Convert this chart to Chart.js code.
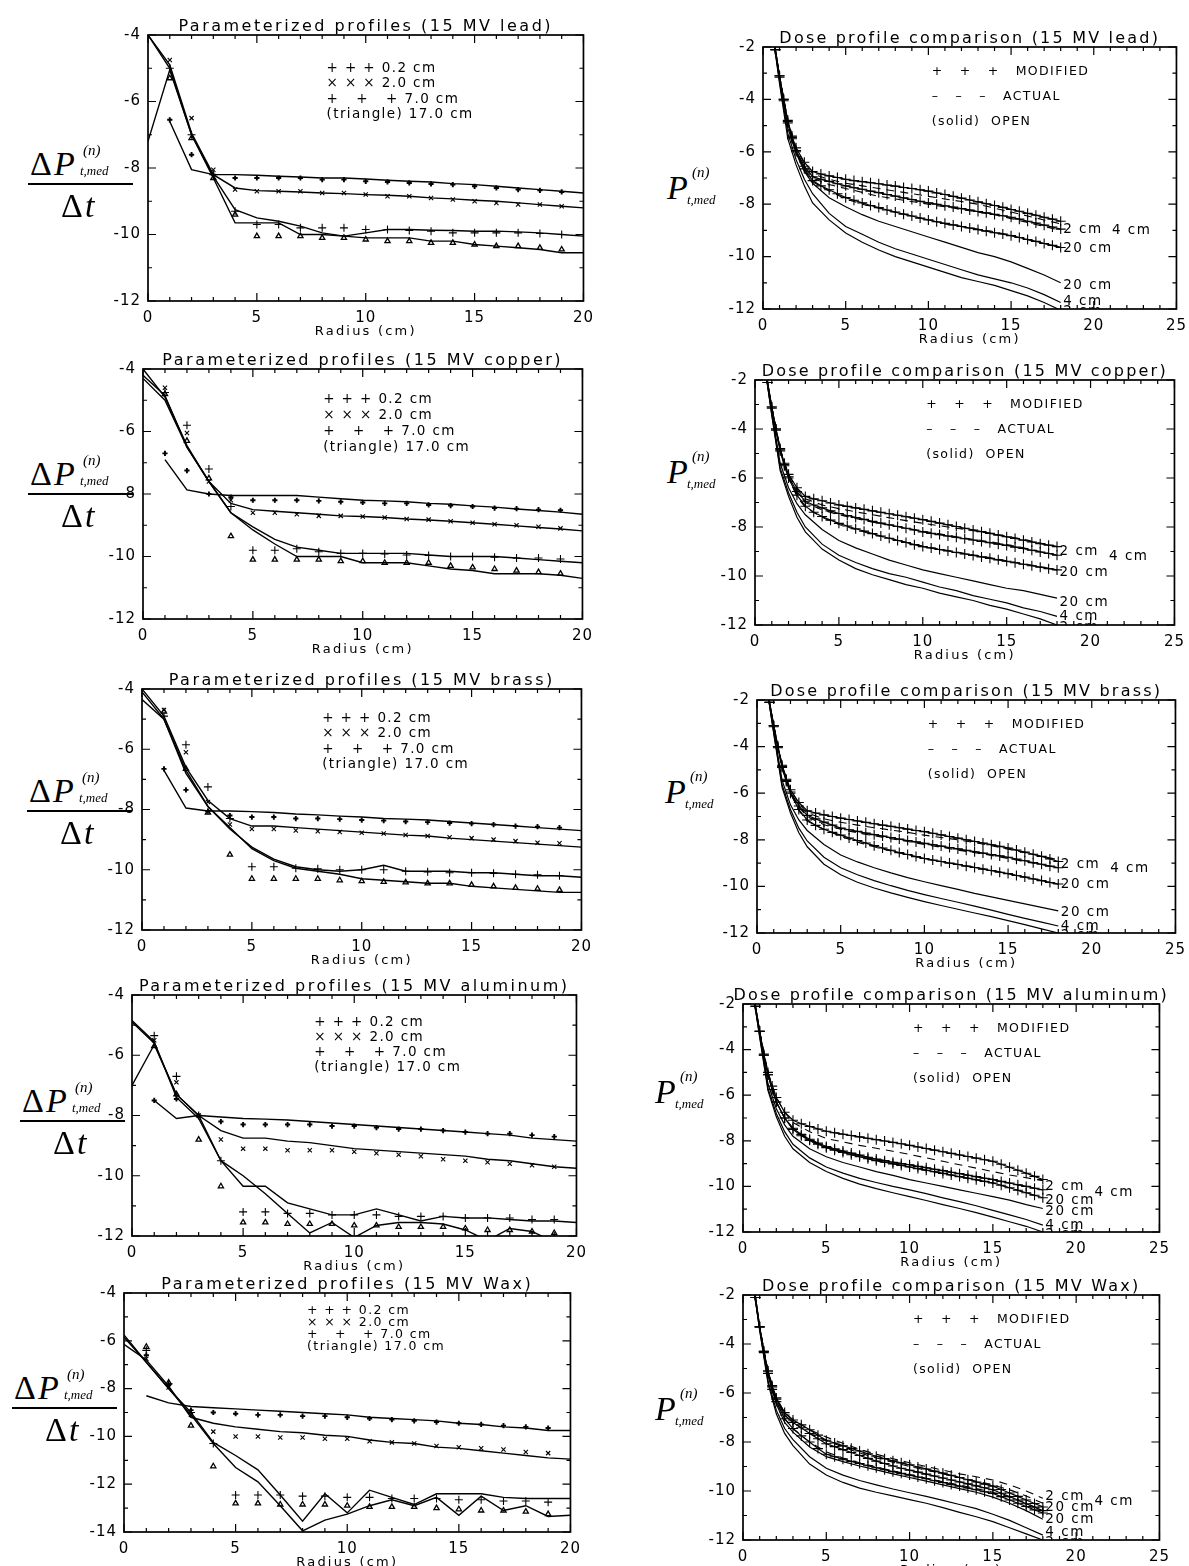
<!DOCTYPE html>
<html>
<head>
<meta charset="utf-8">
<script src="https://cdn.jsdelivr.net/npm/chart.js@4.4.0/dist/chart.umd.min.js"></script>
<style>
  body { margin: 0; background: #fff; }
  #page { position: relative; width: 1189px; height: 1566px; overflow: hidden; background: #fff; }
  canvas { position: absolute; }
  .math { position: absolute; font-family: "Liberation Serif", "DejaVu Serif", serif; color: #000; }
  .math span { position: absolute; white-space: nowrap; line-height: 1; }
  .math .big { font-size: 34px; letter-spacing: 2px; }
  .math .sup { font-size: 15px; font-style: italic; }
  .math .sub { font-size: 13px; font-style: italic; }
  .math .bar { height: 2px; background: #000; }
</style>
</head>
<body>
<div id="page"></div>
<script>
// radii (cm)
const fitRadius = [0, 1, 2, 3, 4, 5, 6, 7, 8, 9, 10, 11, 12, 13, 14, 15, 16, 17, 18, 19, 20];
const markRadius = [1, 2, 3, 4, 5, 6, 7, 8, 9, 10, 11, 12, 13, 14, 15, 16, 17, 18, 19];
const doseRadius = [0.7, 1, 1.5, 2, 2.5, 3, 4, 5, 6, 7, 8, 9, 10, 11, 12, 13, 14, 15, 16, 17, 18];
const modRadius = [0.75, 1, 1.25, 1.5, 1.75, 2, 2.5, 3, 3.5, 4, 4.5, 5, 5.5, 6, 6.5, 7, 7.5, 8, 8.5, 9,
  9.5, 10, 10.5, 11, 11.5, 12, 12.5, 13, 13.5, 14, 14.5, 15, 15.5, 16, 16.5, 17, 17.5, 18];

// parameterized profiles: measured points (0.2, 2.0, 7.0, 17.0 cm)
const leadMark02 = [-6.55, -7.6, -8.2, -8.3, -8.3, -8.3, -8.3, -8.35, -8.35, -8.4, -8.42, -8.45, -8.48, -8.5, -8.55, -8.6, -8.65, -8.67, -8.72];
const leadMark20 = [-4.75, -6.5, -8.05, -8.65, -8.7, -8.7, -8.7, -8.75, -8.75, -8.8, -8.85, -8.85, -8.9, -8.95, -9.0, -9.05, -9.1, -9.1, -9.15];
const leadMark70 = [-5.0, -7.0, -8.2, -9.3, -9.7, -9.7, -9.8, -9.8, -9.8, -9.85, -9.85, -9.88, -9.9, -9.95, -9.95, -9.95, -9.95, -9.97, -10.0];
const leadMark170 = [-5.3, -7.1, -8.3, -9.4, -10.05, -10.05, -10.05, -10.1, -10.1, -10.15, -10.2, -10.2, -10.25, -10.25, -10.3, -10.35, -10.35, -10.4, -10.45];
const leadFit02 = [null, -6.6, -8.05, -8.2, -8.2, -8.22, -8.25, -8.27, -8.3, -8.3, -8.33, -8.37, -8.4, -8.42, -8.47, -8.5, -8.55, -8.6, -8.65, -8.7, -8.75];
const leadFit20 = [-4.0, -4.9, -6.95, -8.2, -8.6, -8.68, -8.7, -8.72, -8.75, -8.77, -8.8, -8.82, -8.85, -8.9, -8.93, -8.97, -9.0, -9.05, -9.1, -9.15, -9.2];
const leadFit70 = [-4.0, -5.0, -7.0, -8.25, -9.25, -9.5, -9.6, -9.75, -9.95, -10.05, -9.95, -9.85, -9.85, -9.87, -9.88, -9.9, -9.9, -9.92, -9.95, -10.0, -10.05];
const leadFit170 = [-7.2, -5.05, -7.0, -8.3, -9.65, -9.65, -9.65, -10.0, -10.0, -10.05, -10.1, -10.1, -10.1, -10.2, -10.2, -10.3, -10.35, -10.4, -10.45, -10.55, -10.55];

const copperMark02 = [-6.7, -7.25, -8.0, -8.1, -8.2, -8.2, -8.2, -8.22, -8.25, -8.27, -8.3, -8.3, -8.35, -8.37, -8.4, -8.45, -8.47, -8.5, -8.52];
const copperMark20 = [-4.6, -6.05, -7.6, -8.2, -8.6, -8.6, -8.65, -8.7, -8.7, -8.72, -8.75, -8.8, -8.82, -8.87, -8.92, -8.97, -9.0, -9.05, -9.1];
const copperMark70 = [-4.75, -5.8, -7.2, -8.4, -9.8, -9.8, -9.75, -9.85, -9.9, -9.9, -9.92, -9.95, -9.97, -10.0, -10.0, -10.02, -10.05, -10.05, -10.08];
const copperMark170 = [-4.8, -6.3, -7.5, -9.35, -10.1, -10.1, -10.1, -10.1, -10.15, -10.15, -10.2, -10.2, -10.2, -10.3, -10.35, -10.4, -10.45, -10.5, -10.55];
const copperFit02 = [null, -6.9, -7.87, -8.0, -8.05, -8.05, -8.05, -8.05, -8.1, -8.15, -8.2, -8.22, -8.25, -8.3, -8.33, -8.38, -8.42, -8.48, -8.53, -8.58, -8.65];
const copperFit20 = [-4.0, -4.9, -6.45, -7.6, -8.3, -8.5, -8.55, -8.6, -8.65, -8.7, -8.72, -8.75, -8.8, -8.83, -8.87, -8.92, -8.97, -9.02, -9.07, -9.12, -9.18];
const copperFit70 = [-4.2, -4.85, -6.5, -7.6, -8.6, -9.05, -9.45, -9.7, -9.8, -9.9, -9.9, -9.9, -9.9, -9.95, -10.0, -10.0, -10.0, -10.05, -10.1, -10.15, -10.2];
const copperFit170 = [-4.3, -5.0, -6.5, -7.6, -8.6, -9.15, -9.6, -10.0, -10.0, -10.0, -10.2, -10.2, -10.2, -10.3, -10.4, -10.45, -10.55, -10.55, -10.55, -10.6, -10.7];

const brassMark02 = [-6.65, -7.35, -8.05, -8.2, -8.25, -8.25, -8.3, -8.3, -8.32, -8.35, -8.37, -8.4, -8.42, -8.45, -8.47, -8.5, -8.55, -8.57, -8.6];
const brassMark20 = [-4.7, -6.1, -7.75, -8.5, -8.65, -8.65, -8.7, -8.72, -8.75, -8.77, -8.8, -8.85, -8.88, -8.92, -8.95, -9.0, -9.05, -9.1, -9.12];
const brassMark70 = [-4.9, -5.85, -7.25, -8.3, -9.9, -9.9, -9.95, -9.97, -10.0, -10.0, -10.0, -10.05, -10.07, -10.1, -10.1, -10.12, -10.15, -10.17, -10.2];
const brassMark170 = [-4.75, -6.65, -8.1, -9.5, -10.3, -10.3, -10.3, -10.3, -10.35, -10.38, -10.4, -10.42, -10.45, -10.45, -10.5, -10.55, -10.6, -10.63, -10.67];
const brassFit02 = [null, -6.7, -7.95, -8.05, -8.05, -8.07, -8.1, -8.15, -8.18, -8.22, -8.25, -8.3, -8.32, -8.35, -8.4, -8.45, -8.5, -8.55, -8.6, -8.65, -8.7];
const brassFit20 = [-4.0, -4.9, -6.6, -7.7, -8.3, -8.55, -8.55, -8.6, -8.65, -8.7, -8.75, -8.8, -8.85, -8.88, -8.95, -9.0, -9.05, -9.1, -9.15, -9.2, -9.25];
const brassFit70 = [-4.35, -5.0, -6.8, -7.9, -8.65, -9.25, -9.65, -9.9, -10.0, -10.05, -10.0, -9.85, -10.05, -10.05, -10.05, -10.1, -10.1, -10.15, -10.2, -10.2, -10.25];
const brassFit170 = [-4.1, -5.0, -6.7, -7.9, -8.6, -9.3, -9.7, -9.95, -10.05, -10.15, -10.3, -10.35, -10.4, -10.45, -10.45, -10.55, -10.6, -10.65, -10.7, -10.75, -10.75];

const aluMark02 = [-7.5, -7.45, -8.0, -8.2, -8.3, -8.3, -8.3, -8.3, -8.35, -8.35, -8.4, -8.45, -8.45, -8.5, -8.55, -8.6, -8.6, -8.65, -8.7];
const aluMark20 = [-5.5, -6.9, -8.0, -8.8, -9.1, -9.1, -9.15, -9.15, -9.15, -9.2, -9.25, -9.3, -9.35, -9.45, -9.5, -9.55, -9.6, -9.65, -9.7];
const aluMark70 = [-5.35, -6.7, -8.0, -9.5, -11.2, -11.2, -11.25, -11.25, -11.3, -11.3, -11.3, -11.35, -11.35, -11.35, -11.4, -11.4, -11.4, -11.45, -11.45];
const aluMark170 = [-5.7, -7.3, -8.8, -10.35, -11.55, -11.55, -11.6, -11.6, -11.6, -11.65, -11.65, -11.7, -11.7, -11.7, -11.75, -11.8, -11.8, -11.85, -11.9];
const aluFit02 = [null, -7.5, -8.1, -8.0, -8.05, -8.1, -8.12, -8.15, -8.2, -8.25, -8.3, -8.35, -8.4, -8.45, -8.5, -8.55, -8.6, -8.65, -8.75, -8.8, -8.85];
const aluFit20 = [-4.9, -5.6, -7.3, -8.0, -8.5, -8.75, -8.75, -8.85, -8.9, -9.0, -9.1, -9.15, -9.2, -9.25, -9.3, -9.35, -9.45, -9.5, -9.6, -9.7, -9.75];
const aluFit70 = [-4.85, -5.55, -7.4, -8.1, -9.5, -10.35, -10.35, -10.9, -11.1, -11.3, -11.3, -11.1, -11.3, -11.5, -11.35, -11.4, -11.4, -11.45, -11.5, -11.5, -11.55];
const aluFit170 = [-7.0, -5.65, -7.3, -8.0, -9.5, -10.0, -10.6, -11.25, -11.9, -11.55, -12.05, -11.65, -11.55, -11.55, -11.6, -11.8, -12.15, -11.75, -11.85, -12.2, -12.05];

const waxMark02 = [-6.6, -7.85, -8.9, -9.0, -9.05, -9.1, -9.1, -9.15, -9.15, -9.2, -9.25, -9.3, -9.35, -9.4, -9.45, -9.5, -9.55, -9.6, -9.65];
const waxMark20 = [-6.75, -7.95, -9.1, -9.8, -10.0, -10.0, -10.05, -10.05, -10.1, -10.1, -10.2, -10.25, -10.3, -10.4, -10.45, -10.5, -10.55, -10.65, -10.7];
const waxMark70 = [-6.4, -7.8, -9.0, -10.3, -12.45, -12.45, -12.45, -12.5, -12.5, -12.55, -12.55, -12.6, -12.6, -12.6, -12.65, -12.65, -12.7, -12.7, -12.75];
const waxMark170 = [-6.25, -7.75, -9.55, -11.25, -12.8, -12.8, -12.85, -12.85, -12.85, -12.9, -12.95, -12.95, -12.95, -13.0, -13.05, -13.1, -13.1, -13.15, -13.25];
const waxFit02 = [null, -8.3, -8.6, -8.75, -8.8, -8.85, -8.9, -8.95, -9.0, -9.05, -9.1, -9.2, -9.25, -9.3, -9.35, -9.45, -9.5, -9.6, -9.65, -9.75, -9.75];
const waxFit20 = [-6.15, -6.8, -7.9, -9.2, -9.45, -9.6, -9.7, -9.8, -9.85, -9.95, -10.0, -10.15, -10.25, -10.3, -10.45, -10.5, -10.6, -10.7, -10.8, -10.9, -10.95];
const waxFit70 = [-5.75, -6.9, -8.0, -9.0, -10.25, -10.8, -11.4, -12.45, -13.55, -12.4, -13.2, -12.25, -12.55, -12.85, -12.4, -12.4, -12.4, -12.55, -12.6, -12.6, -12.6];
const waxFit170 = [-5.85, -6.9, -8.0, -9.1, -10.3, -11.3, -11.9, -12.9, -13.95, -13.5, -13.25, -12.9, -12.65, -12.9, -12.55, -13.3, -12.5, -13.1, -12.9, -13.35, -13.3];

// dose profiles: modified (on modRadius), actual and open (on doseRadius), fields 2, 4, 20 cm
const leadMod2 = [-2.1, -3.1, -4.0, -4.8, -5.4, -5.85, -6.4, -6.75, -6.85, -6.92, -6.98, -7.05, -7.1, -7.14, -7.18, -7.22, -7.27, -7.31, -7.36, -7.4, -7.45, -7.5, -7.57, -7.63, -7.7, -7.77, -7.84, -7.91, -7.98, -8.05, -8.12, -8.2, -8.27, -8.35, -8.42, -8.5, -8.57, -8.65];
const leadMod4 = [-2.1, -3.1, -4.0, -4.85, -5.45, -5.95, -6.55, -6.95, -7.05, -7.13, -7.22, -7.3, -7.37, -7.43, -7.5, -7.56, -7.63, -7.69, -7.76, -7.82, -7.89, -7.95, -8.0, -8.06, -8.11, -8.17, -8.22, -8.28, -8.33, -8.39, -8.44, -8.5, -8.57, -8.65, -8.72, -8.8, -8.87, -8.95];
const leadMod20 = [-2.1, -3.15, -4.05, -4.9, -5.5, -6.0, -6.65, -7.1, -7.3, -7.45, -7.6, -7.75, -7.85, -7.95, -8.05, -8.13, -8.22, -8.3, -8.38, -8.45, -8.53, -8.6, -8.67, -8.73, -8.79, -8.85, -8.91, -8.97, -9.03, -9.09, -9.14, -9.2, -9.27, -9.35, -9.42, -9.5, -9.57, -9.65];
const leadAct2 = [-2.0, -3.1, -4.8, -5.85, -6.45, -6.85, -7.05, -7.2, -7.3, -7.4, -7.5, -7.6, -7.7, -7.8, -7.9, -8.0, -8.15, -8.3, -8.45, -8.6, -8.75];
const leadAct4 = [-2.0, -3.1, -4.85, -5.95, -6.6, -7.0, -7.25, -7.4, -7.55, -7.7, -7.8, -7.9, -8.0, -8.1, -8.2, -8.3, -8.4, -8.55, -8.7, -8.85, -9.0];
const leadAct20 = [-2.0, -3.15, -4.9, -6.0, -6.7, -7.15, -7.5, -7.8, -8.0, -8.15, -8.3, -8.45, -8.6, -8.75, -8.85, -8.95, -9.05, -9.2, -9.35, -9.5, -9.65];
const leadOpen2 = [-2.0, -3.4, -5.5, -6.5, -7.3, -7.95, -8.6, -9.1, -9.45, -9.75, -10.0, -10.2, -10.4, -10.6, -10.8, -10.95, -11.1, -11.3, -11.5, -11.75, -12.05];
const leadOpen4 = [-2.0, -3.3, -5.3, -6.3, -7.05, -7.6, -8.35, -8.85, -9.15, -9.45, -9.7, -9.9, -10.1, -10.3, -10.5, -10.7, -10.85, -11.0, -11.2, -11.45, -11.75];
const leadOpen20 = [-2.0, -3.2, -5.1, -6.05, -6.75, -7.2, -7.75, -8.1, -8.4, -8.65, -8.85, -9.05, -9.25, -9.45, -9.65, -9.85, -10.0, -10.2, -10.45, -10.7, -11.0];

const copperMod2 = [-2.1, -3.1, -4.0, -4.8, -5.4, -5.85, -6.4, -6.75, -6.85, -6.93, -7.02, -7.1, -7.16, -7.22, -7.28, -7.34, -7.4, -7.46, -7.52, -7.58, -7.64, -7.7, -7.77, -7.84, -7.91, -7.98, -8.05, -8.12, -8.19, -8.26, -8.33, -8.4, -8.47, -8.54, -8.61, -8.68, -8.74, -8.8];
const copperMod4 = [-2.1, -3.1, -4.0, -4.85, -5.45, -5.95, -6.55, -6.95, -7.1, -7.22, -7.34, -7.45, -7.53, -7.61, -7.69, -7.77, -7.84, -7.91, -7.98, -8.05, -8.12, -8.2, -8.26, -8.31, -8.37, -8.42, -8.48, -8.53, -8.59, -8.64, -8.7, -8.75, -8.82, -8.88, -8.95, -9.02, -9.08, -9.15];
const copperMod20 = [-2.1, -3.15, -4.05, -4.9, -5.5, -6.0, -6.7, -7.15, -7.4, -7.57, -7.72, -7.85, -7.96, -8.07, -8.17, -8.27, -8.37, -8.46, -8.55, -8.63, -8.72, -8.8, -8.86, -8.92, -8.98, -9.04, -9.1, -9.16, -9.22, -9.28, -9.34, -9.4, -9.46, -9.52, -9.58, -9.64, -9.7, -9.75];
const copperAct2 = [-2.0, -3.1, -4.8, -5.85, -6.45, -6.85, -7.1, -7.25, -7.38, -7.5, -7.62, -7.74, -7.85, -7.95, -8.05, -8.15, -8.25, -8.38, -8.5, -8.65, -8.8];
const copperAct4 = [-2.0, -3.1, -4.85, -5.95, -6.6, -7.0, -7.3, -7.5, -7.65, -7.8, -7.92, -8.05, -8.17, -8.28, -8.4, -8.5, -8.6, -8.72, -8.85, -9.0, -9.15];
const copperAct20 = [-2.0, -3.15, -4.9, -6.0, -6.75, -7.2, -7.6, -7.9, -8.1, -8.3, -8.45, -8.62, -8.78, -8.9, -9.02, -9.14, -9.25, -9.38, -9.5, -9.62, -9.75];
const copperOpen2 = [-2.0, -3.45, -5.7, -6.75, -7.6, -8.2, -8.9, -9.35, -9.7, -9.95, -10.15, -10.35, -10.5, -10.7, -10.85, -11.0, -11.2, -11.35, -11.55, -11.75, -12.0];
const copperOpen4 = [-2.0, -3.4, -5.6, -6.6, -7.4, -8.0, -8.7, -9.15, -9.45, -9.7, -9.9, -10.05, -10.25, -10.45, -10.6, -10.8, -10.95, -11.1, -11.3, -11.45, -11.65];
const copperOpen20 = [-2.0, -3.3, -5.4, -6.4, -7.05, -7.5, -8.1, -8.55, -8.85, -9.1, -9.35, -9.55, -9.75, -9.9, -10.05, -10.2, -10.35, -10.5, -10.6, -10.75, -10.9];

const brassMod2 = [-2.1, -3.1, -4.0, -4.8, -5.4, -5.85, -6.4, -6.75, -6.85, -6.93, -7.0, -7.07, -7.13, -7.19, -7.25, -7.31, -7.37, -7.42, -7.48, -7.54, -7.6, -7.65, -7.72, -7.79, -7.86, -7.93, -8.0, -8.07, -8.14, -8.21, -8.28, -8.35, -8.44, -8.53, -8.62, -8.71, -8.82, -8.93];
const brassMod4 = [-2.1, -3.1, -4.0, -4.85, -5.45, -5.95, -6.55, -6.95, -7.1, -7.24, -7.37, -7.5, -7.57, -7.64, -7.71, -7.78, -7.84, -7.9, -7.97, -8.03, -8.09, -8.15, -8.21, -8.27, -8.33, -8.39, -8.45, -8.51, -8.57, -8.63, -8.69, -8.75, -8.83, -8.9, -8.98, -9.05, -9.13, -9.2];
const brassMod20 = [-2.1, -3.15, -4.05, -4.9, -5.5, -6.0, -6.7, -7.15, -7.38, -7.55, -7.68, -7.8, -7.92, -8.03, -8.14, -8.25, -8.35, -8.45, -8.55, -8.63, -8.72, -8.8, -8.87, -8.93, -9.0, -9.06, -9.13, -9.19, -9.26, -9.32, -9.39, -9.45, -9.53, -9.6, -9.68, -9.75, -9.83, -9.9];
const brassAct2 = [-2.0, -3.1, -4.8, -5.85, -6.45, -6.85, -7.1, -7.25, -7.37, -7.48, -7.58, -7.68, -7.8, -7.9, -8.0, -8.12, -8.25, -8.4, -8.55, -8.7, -8.85];
const brassAct4 = [-2.0, -3.1, -4.85, -5.95, -6.6, -7.0, -7.35, -7.55, -7.7, -7.83, -7.95, -8.07, -8.2, -8.32, -8.44, -8.55, -8.67, -8.8, -8.93, -9.06, -9.2];
const brassAct20 = [-2.0, -3.15, -4.9, -6.0, -6.75, -7.2, -7.55, -7.85, -8.1, -8.3, -8.48, -8.65, -8.8, -8.93, -9.05, -9.18, -9.3, -9.45, -9.6, -9.75, -9.9];
const brassOpen2 = [-2.0, -3.45, -5.75, -6.85, -7.7, -8.3, -9.05, -9.5, -9.82, -10.07, -10.28, -10.47, -10.65, -10.82, -10.98, -11.14, -11.3, -11.47, -11.64, -11.82, -12.0];
const brassOpen4 = [-2.0, -3.4, -5.65, -6.7, -7.5, -8.05, -8.75, -9.2, -9.5, -9.75, -9.97, -10.17, -10.35, -10.52, -10.68, -10.85, -11.02, -11.2, -11.37, -11.53, -11.7];
const brassOpen20 = [-2.0, -3.3, -5.45, -6.5, -7.15, -7.6, -8.2, -8.65, -8.95, -9.2, -9.42, -9.62, -9.8, -9.97, -10.13, -10.3, -10.45, -10.6, -10.75, -10.9, -11.05];

const aluMod2 = [-2.1, -3.2, -4.2, -5.0, -5.6, -6.1, -6.75, -7.1, -7.25, -7.37, -7.48, -7.58, -7.65, -7.71, -7.77, -7.83, -7.89, -7.95, -8.01, -8.07, -8.13, -8.2, -8.27, -8.34, -8.41, -8.48, -8.55, -8.62, -8.69, -8.76, -8.83, -8.9, -9.03, -9.16, -9.29, -9.42, -9.56, -9.7];
const aluMod4 = [-2.1, -3.2, -4.25, -5.1, -5.75, -6.3, -7.0, -7.45, -7.72, -7.93, -8.1, -8.25, -8.35, -8.45, -8.54, -8.63, -8.72, -8.8, -8.87, -8.94, -9.0, -9.05, -9.12, -9.18, -9.25, -9.31, -9.38, -9.44, -9.51, -9.57, -9.64, -9.7, -9.78, -9.85, -9.93, -10.0, -10.08, -10.15];
const aluMod20 = [-2.1, -3.2, -4.25, -5.1, -5.75, -6.3, -7.0, -7.5, -7.78, -7.98, -8.15, -8.3, -8.41, -8.51, -8.61, -8.7, -8.79, -8.87, -8.94, -9.01, -9.08, -9.15, -9.22, -9.29, -9.36, -9.43, -9.5, -9.57, -9.64, -9.71, -9.78, -9.85, -9.95, -10.06, -10.17, -10.28, -10.39, -10.5];
const aluAct2 = [-2.0, -3.2, -5.0, -6.1, -6.75, -7.2, -7.6, -7.9, -8.05, -8.2, -8.33, -8.46, -8.6, -8.75, -8.9, -9.05, -9.2, -9.35, -9.5, -9.62, -9.75];
const aluAct4 = [-2.0, -3.2, -5.1, -6.3, -7.0, -7.45, -7.95, -8.25, -8.45, -8.63, -8.8, -8.93, -9.05, -9.18, -9.31, -9.44, -9.57, -9.7, -9.85, -10.0, -10.15];
const aluAct20 = [-2.0, -3.2, -5.1, -6.3, -7.0, -7.5, -8.0, -8.3, -8.52, -8.7, -8.87, -9.01, -9.15, -9.29, -9.43, -9.57, -9.71, -9.85, -10.07, -10.28, -10.5];
const aluOpen2 = [-2.0, -3.45, -5.8, -6.95, -7.8, -8.35, -8.95, -9.35, -9.65, -9.9, -10.1, -10.28, -10.45, -10.62, -10.8, -10.97, -11.15, -11.35, -11.55, -11.75, -12.0];
const aluOpen4 = [-2.0, -3.4, -5.7, -6.8, -7.6, -8.15, -8.75, -9.15, -9.42, -9.65, -9.83, -10.0, -10.15, -10.32, -10.5, -10.67, -10.85, -11.05, -11.25, -11.45, -11.7];
const aluOpen20 = [-2.0, -3.3, -5.5, -6.6, -7.3, -7.8, -8.35, -8.7, -8.95, -9.15, -9.35, -9.52, -9.7, -9.85, -10.0, -10.15, -10.3, -10.45, -10.6, -10.8, -10.97];

const waxMod2 = [-2.1, -3.3, -4.3, -5.1, -5.7, -6.2, -6.8, -7.1, -7.3, -7.5, -7.72, -7.93, -8.04, -8.15, -8.26, -8.37, -8.48, -8.58, -8.68, -8.77, -8.85, -8.93, -9.02, -9.1, -9.19, -9.27, -9.36, -9.45, -9.54, -9.63, -9.72, -9.8, -9.94, -10.08, -10.22, -10.37, -10.51, -10.65];
const waxMod4 = [-2.1, -3.3, -4.3, -5.1, -5.75, -6.25, -6.9, -7.2, -7.42, -7.65, -7.87, -8.07, -8.19, -8.31, -8.43, -8.55, -8.67, -8.78, -8.88, -8.98, -9.07, -9.15, -9.23, -9.31, -9.39, -9.47, -9.55, -9.63, -9.71, -9.79, -9.87, -9.95, -10.09, -10.23, -10.37, -10.52, -10.66, -10.8];
const waxMod20 = [-2.1, -3.3, -4.35, -5.2, -5.85, -6.35, -7.05, -7.45, -7.75, -8.0, -8.27, -8.5, -8.6, -8.7, -8.79, -8.88, -8.97, -9.05, -9.13, -9.21, -9.28, -9.35, -9.43, -9.5, -9.58, -9.65, -9.73, -9.8, -9.88, -9.95, -10.03, -10.1, -10.23, -10.37, -10.5, -10.63, -10.77, -10.9];
const waxAct2 = [-2.0, -3.3, -5.1, -6.2, -6.8, -7.1, -7.5, -7.8, -8.05, -8.3, -8.5, -8.68, -8.85, -9.0, -9.15, -9.3, -9.42, -9.55, -9.75, -10.0, -10.3];
const waxAct4 = [-2.0, -3.3, -5.15, -6.25, -6.9, -7.2, -7.65, -7.95, -8.2, -8.45, -8.65, -8.83, -9.0, -9.15, -9.3, -9.45, -9.6, -9.75, -9.95, -10.2, -10.5];
const waxAct20 = [-2.0, -3.3, -5.2, -6.35, -7.05, -7.45, -8.0, -8.4, -8.65, -8.85, -9.02, -9.18, -9.33, -9.48, -9.62, -9.76, -9.9, -10.05, -10.25, -10.5, -10.8];
const waxOpen2 = [-2.0, -3.45, -5.6, -6.85, -7.65, -8.15, -8.9, -9.35, -9.65, -9.88, -10.05, -10.2, -10.35, -10.5, -10.68, -10.87, -11.05, -11.25, -11.5, -11.75, -12.0];
const waxOpen4 = [-2.0, -3.4, -5.5, -6.7, -7.45, -7.9, -8.6, -9.07, -9.35, -9.57, -9.75, -9.92, -10.07, -10.22, -10.38, -10.55, -10.72, -10.95, -11.2, -11.5, -11.8];
const waxOpen20 = [-2.0, -3.35, -5.3, -6.45, -7.2, -7.6, -8.2, -8.6, -8.8, -8.98, -9.14, -9.3, -9.45, -9.6, -9.75, -9.9, -10.05, -10.25, -10.5, -10.8, -11.15];

const paramLegend = ['+ + + 0.2 cm', '\u00d7 \u00d7 \u00d7 2.0 cm', '+   +   + 7.0 cm', '(triangle) 17.0 cm'];
const doseLegend = ['+   +   +   MODIFIED', '\u2013   \u2013   \u2013   ACTUAL', '(solid)  OPEN'];
const curveLabels = ['2 cm', '4 cm', '20 cm', '20 cm', '4 cm', '2 cm'];

// panel layout: box = [left, top, right, bottom] of the plot frame on the page
const paramPanels = [
  { title: 'Parameterized profiles (15 MV lead)', box: [148, 35, 590, 301], yMin: -12,
    marks: [leadMark02, leadMark20, leadMark70, leadMark170], fits: [leadFit02, leadFit20, leadFit70, leadFit170],
    legend: [33, 15.5, 13.5], frac: [28, 183] },
  { title: 'Parameterized profiles (15 MV copper)', box: [143, 369, 589, 619], yMin: -12,
    marks: [copperMark02, copperMark20, copperMark70, copperMark170], fits: [copperFit02, copperFit20, copperFit70, copperFit170],
    legend: [30, 16, 13.5], frac: [28, 493] },
  { title: 'Parameterized profiles (15 MV brass)', box: [142, 689, 588, 930], yMin: -12,
    marks: [brassMark02, brassMark20, brassMark70, brassMark170], fits: [brassFit02, brassFit20, brassFit70, brassFit170],
    legend: [29, 15.5, 13.5], frac: [27, 810] },
  { title: 'Parameterized profiles (15 MV aluminum)', box: [132, 995, 583, 1236], yMin: -12,
    marks: [aluMark02, aluMark20, aluMark70, aluMark170], fits: [aluFit02, aluFit20, aluFit70, aluFit170],
    legend: [27, 15, 13.5], frac: [20, 1120] },
  { title: 'Parameterized profiles (15 MV Wax)', box: [124, 1293, 577, 1532], yMin: -14,
    marks: [waxMark02, waxMark20, waxMark70, waxMark170], fits: [waxFit02, waxFit20, waxFit70, waxFit170],
    legend: [18, 12, 12.5], frac: [12, 1407] }
];

// labelY: where the curve labels sit, in curveLabels order
const dosePanels = [
  { title: 'Dose profile comparison (15 MV lead)', box: [763, 47, 1183, 309],
    mod: [leadMod2, leadMod4, leadMod20], act: [leadAct2, leadAct4, leadAct20], open: [leadOpen2, leadOpen4, leadOpen20],
    labelY: [-8.97, -9.02, -9.7, -11.1, -11.7, -12.1], lab: [667, 189] },
  { title: 'Dose profile comparison (15 MV copper)', box: [755, 380, 1181, 625],
    mod: [copperMod2, copperMod4, copperMod20], act: [copperAct2, copperAct4, copperAct20], open: [copperOpen2, copperOpen4, copperOpen20],
    labelY: [-9.0, -9.2, -9.87, -11.1, -11.66, -12.1], lab: [667, 473] },
  { title: 'Dose profile comparison (15 MV brass)', box: [757, 700, 1182, 933],
    mod: [brassMod2, brassMod4, brassMod20], act: [brassAct2, brassAct4, brassAct20], open: [brassOpen2, brassOpen4, brassOpen20],
    labelY: [-9.07, -9.24, -9.93, -11.14, -11.71, -12.1], lab: [665, 793] },
  { title: 'Dose profile comparison (15 MV aluminum)', box: [743, 1004, 1166, 1232],
    mod: [aluMod2, aluMod4, aluMod20], act: [aluAct2, aluAct4, aluAct20], open: [aluOpen2, aluOpen4, aluOpen20],
    labelY: [-10.0, -10.28, -10.6, -11.12, -11.7, -12.1], lab: [655, 1093] },
  { title: 'Dose profile comparison (15 MV Wax)', box: [743, 1295, 1166, 1540],
    mod: [waxMod2, waxMod4, waxMod20], act: [waxAct2, waxAct4, waxAct20], open: [waxOpen2, waxOpen4, waxOpen20],
    labelY: [-10.24, -10.43, -10.67, -11.17, -11.71, -12.1], lab: [655, 1410] }
];
const labelX = [18.15, 21.1, 18.15, 18.15, 18.15, 18.15];

Chart.defaults.color = '#000';
Chart.defaults.font.family = '"DejaVu Sans", sans-serif';

const page = document.getElementById('page');
const PAD_L = 60, PAD_T = 30, PAD_R = 12, AXIS_H = 42, AXIS_W = 40;

const pts = (xs, ys) => xs.map((x, i) => ({ x: x, y: ys[i] })).filter(p => p.y !== null);

// frame, inward ticks, titles, legend and curve labels
const framePlugin = {
  id: 'frame',
  beforeLayout(chart) { chart.ctx.letterSpacing = '1px'; },
  beforeDraw(chart) { chart.ctx.letterSpacing = '1px'; },
  afterDraw(chart, args, o) {
    const { ctx, chartArea: a, scales } = chart;
    const xs = scales.x, ys = scales.y;
    ctx.save();
    ctx.strokeStyle = '#000';
    ctx.lineWidth = 1.7;
    ctx.strokeRect(a.left, a.top, a.right - a.left, a.bottom - a.top);

    ctx.lineWidth = 1.2;
    ctx.beginPath();
    const nx = Math.round((xs.max - xs.min) / o.xMinor);
    for (let k = 0; k <= nx; k++) {
      const v = xs.min + k * o.xMinor;
      const len = (Math.abs(v % o.xMajor) < 1e-6) ? 8 : 4;
      const px = xs.getPixelForValue(v);
      ctx.moveTo(px, a.bottom); ctx.lineTo(px, a.bottom - len);
      ctx.moveTo(px, a.top); ctx.lineTo(px, a.top + len);
    }
    const ny = Math.round((ys.max - ys.min) / o.yMinor);
    for (let k = 0; k <= ny; k++) {
      const v = ys.min + k * o.yMinor;
      const len = (Math.abs(v % o.yMajor) < 1e-6) ? 8 : 4;
      const py = ys.getPixelForValue(v);
      ctx.moveTo(a.left, py); ctx.lineTo(a.left + len, py);
      ctx.moveTo(a.right, py); ctx.lineTo(a.right - len, py);
    }
    ctx.stroke();

    ctx.fillStyle = '#000';
    ctx.textAlign = 'center';
    ctx.textBaseline = 'alphabetic';
    ctx.font = '16px "DejaVu Sans"';
    ctx.letterSpacing = o.titleSpacing;
    ctx.fillText(o.title, (a.left + a.right) / 2, a.top - 4);

    ctx.font = '13px "DejaVu Sans"';
    ctx.letterSpacing = '2.2px';
    ctx.textBaseline = 'middle';
    ctx.fillText('Radius (cm)', (a.left + a.right) / 2, a.bottom + 31);

    ctx.textAlign = 'left';
    ctx.font = o.legendFont + 'px "DejaVu Sans"';
    ctx.letterSpacing = '1.4px';
    o.legend.forEach((t, i) => {
      ctx.fillText(t, o.legendX(a, xs), a.top + o.legendTop + i * o.legendStep);
    });

    if (o.labelY) {
      ctx.save();
      ctx.beginPath();
      ctx.rect(a.left, a.top, a.right - a.left, a.bottom - a.top);
      ctx.clip();
      ctx.font = '13.5px "DejaVu Sans"';
      ctx.letterSpacing = '1.5px';
      curveLabels.forEach((t, i) => {
        ctx.fillText(t, xs.getPixelForValue(labelX[i]), ys.getPixelForValue(o.labelY[i]));
      });
      ctx.restore();
    }
    ctx.restore();
  }
};

function makeCanvas(box) {
  const [l, t, r, b] = box;
  const c = document.createElement('canvas');
  const w = (r - l) + PAD_L + PAD_R, h = (b - t) + PAD_T + AXIS_H;
  c.width = w; c.height = h;
  c.style.left = (l - PAD_L) + 'px';
  c.style.top = (t - PAD_T) + 'px';
  c.style.width = w + 'px'; c.style.height = h + 'px';
  page.appendChild(c);
  return c;
}

function axes(xMax, yMin, yMax) {
  return {
    x: {
      type: 'linear', min: 0, max: xMax,
      grid: { display: false, drawTicks: false }, border: { display: false },
      ticks: { stepSize: 5, padding: 8, font: { size: 15 }, maxRotation: 0 },
      afterFit: s => { s.height = AXIS_H; }
    },
    y: {
      type: 'linear', min: yMin, max: yMax,
      grid: { display: false, drawTicks: false }, border: { display: false },
      ticks: { stepSize: 2, padding: 7, font: { size: 15 } },
      afterFit: s => { s.width = AXIS_W; }
    }
  };
}

function baseOptions(scales, frame) {
  return {
    responsive: false, animation: false, devicePixelRatio: 1,
    layout: { padding: { left: PAD_L - AXIS_W, top: PAD_T, right: PAD_R, bottom: 0 } },
    plugins: { legend: { display: false }, tooltip: { enabled: false }, frame: frame },
    elements: { line: { tension: 0 } },
    scales: scales
  };
}

const markStyles = [
  { pointStyle: 'cross', pointRadius: 2.6, pointBorderWidth: 1.9, pointBackgroundColor: '#000' },
  { pointStyle: 'crossRot', pointRadius: 3, pointBorderWidth: 1.1, pointBackgroundColor: '#000' },
  { pointStyle: 'cross', pointRadius: 4, pointBorderWidth: 1.1, pointBackgroundColor: '#000' },
  { pointStyle: 'triangle', pointRadius: 3, pointBorderWidth: 1.3, pointBackgroundColor: 'rgba(0,0,0,0)' }
];

paramPanels.forEach(p => {
  const datasets = [];
  p.fits.forEach(f => datasets.push({
    data: pts(fitRadius, f), showLine: true, borderColor: '#000', borderWidth: 1.4, pointRadius: 0
  }));
  p.marks.forEach((m, i) => datasets.push(Object.assign({
    data: pts(markRadius, m), showLine: false, borderColor: '#000', pointBorderColor: '#000'
  }, markStyles[i])));
  new Chart(makeCanvas(p.box), {
    type: 'scatter',
    data: { datasets: datasets },
    options: baseOptions(axes(20, p.yMin, -4), {
      title: p.title, titleSpacing: '2.5px', xMinor: 1, xMajor: 5, yMinor: 1, yMajor: 2,
      legend: paramLegend, legendTop: p.legend[0], legendStep: p.legend[1], legendFont: p.legend[2],
      legendX: (a) => a.left + 0.41 * (a.right - a.left)
    }),
    plugins: [framePlugin]
  });
});

dosePanels.forEach(p => {
  const datasets = [];
  p.mod.forEach(m => datasets.push({
    data: pts(modRadius, m), showLine: true, borderColor: '#000', borderWidth: 1.2,
    pointStyle: 'cross', pointRadius: 5, pointBorderWidth: 1.1, pointBorderColor: '#000'
  }));
  p.act.forEach(m => datasets.push({
    data: pts(doseRadius, m), showLine: true, borderColor: '#000', borderWidth: 1.1,
    borderDash: [8, 6], pointRadius: 0
  }));
  p.open.forEach(m => datasets.push({
    data: pts(doseRadius, m), showLine: true, borderColor: '#000', borderWidth: 1.2, pointRadius: 0
  }));
  new Chart(makeCanvas(p.box), {
    type: 'scatter',
    data: { datasets: datasets },
    options: baseOptions(axes(25, -12, -2), {
      title: p.title, titleSpacing: '2.2px', xMinor: 1, xMajor: 5, yMinor: 1, yMajor: 2,
      legend: doseLegend, legendTop: 25, legendStep: 25, legendFont: 12.5,
      legendX: (a, xs) => xs.getPixelForValue(10.2),
      labelY: p.labelY
    }),
    plugins: [framePlugin]
  });
});

// axis quantity labels as HTML text
function addMath(x, y, parts) {
  const d = document.createElement('div');
  d.className = 'math';
  d.style.left = x + 'px';
  d.style.top = y + 'px';
  d.innerHTML = parts;
  page.appendChild(d);
}

paramPanels.forEach(p => {
  const [x, y] = p.frac;
  addMath(x, y,
    '<span class="big" style="left:2px;top:-36px">\u0394<i>P</i></span>' +
    '<span class="sup" style="left:55px;top:-40px">(<i>n</i>)</span>' +
    '<span class="sub" style="left:52px;top:-19px">t,med</span>' +
    '<span class="bar" style="left:0;top:0;width:105px"></span>' +
    '<span class="big" style="left:33px;top:6px">\u0394<i>t</i></span>');
});

dosePanels.forEach(p => {
  const [x, y] = p.lab;
  addMath(x, y,
    '<span class="big" style="left:0;top:-18px"><i>P</i></span>' +
    '<span class="sup" style="left:25px;top:-24px">(<i>n</i>)</span>' +
    '<span class="sub" style="left:20px;top:4px">t,med</span>');
});
</script>
</body>
</html>
